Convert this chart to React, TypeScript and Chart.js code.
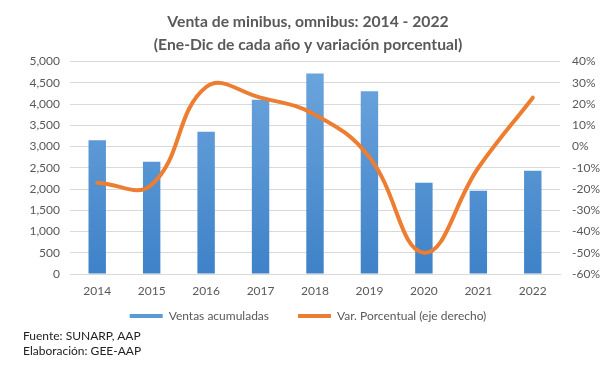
import { useEffect, useRef } from "react";
import { Chart, registerables } from "chart.js";
Chart.register(...registerables);

const years = ["2014", "2015", "2016", "2017", "2018", "2019", "2020", "2021", "2022"];
const ventas = [3150, 2640, 3350, 4100, 4720, 4300, 2150, 1960, 2430];
const variacion = [-17, -18, 28, 23, 15, -5, -50, -10, 23];
const titleLines = ["Venta de minibus, omnibus: 2014 - 2022", "(Ene-Dic de cada año y variación porcentual)"];
const barLabel = "Ventas acumuladas";
const lineLabel = "Var. Porcentual (eje derecho)";
const notes = ["Fuente: SUNARP, AAP", "Elaboración: GEE-AAP"];

const FONT = "Lato, 'Open Sans', sans-serif";
const GRAY = "#595959";

export default function App() {
  const ref = useRef<HTMLCanvasElement>(null);
  useEffect(() => {
    document.body.style.margin = "0";
    const ctx = ref.current!.getContext("2d")!;
    const chart = new Chart(ctx, {
      type: "bar",
      data: {
        labels: years,
        datasets: [
          {
            type: "bar",
            label: barLabel,
            data: ventas,
            yAxisID: "y",
            order: 1,
            barPercentage: 0.32,
            categoryPercentage: 1,
            backgroundColor: (c: any) => {
              const area = c.chart.chartArea;
              if (!area) return "#5B9BD5";
              const g = c.chart.ctx.createLinearGradient(0, area.top, 0, area.bottom);
              g.addColorStop(0, "#6DA6DE");
              g.addColorStop(1, "#3F82C8");
              return g;
            },
          },
          {
            type: "line",
            label: lineLabel,
            data: variacion,
            yAxisID: "y1",
            order: 0,
            borderColor: "#ED7D31",
            backgroundColor: "#ED7D31",
            borderWidth: 4,
            pointRadius: 0,
            tension: 0.42,
            borderCapStyle: "round",
          },
        ],
      },
      options: {
        animation: false,
        responsive: false,
        layout: { padding: { top: 0, bottom: 35, left: 0, right: 0 } },
        plugins: {
          title: {
            display: true,
            text: titleLines,
            color: GRAY,
            font: { family: FONT, size: 15.7, weight: "bold", lineHeight: 1.45 },
            padding: { top: 11, bottom: 5 },
          },
          legend: {
            position: "bottom",
            labels: {
              color: GRAY,
              font: { family: FONT, size: 12 },
              boxWidth: 33,
              boxHeight: 4,
              padding: 2,
              generateLabels: () => [
                { text: barLabel + "\u2003\u2003\u2003", fillStyle: "#5B9BD5", strokeStyle: "#5B9BD5", lineWidth: 0, datasetIndex: 0, fontColor: GRAY } as any,
                { text: lineLabel, fillStyle: "#ED7D31", strokeStyle: "#ED7D31", lineWidth: 0, datasetIndex: 1, fontColor: GRAY } as any,
              ],
            },
          },
          tooltip: { enabled: false },
        },
        scales: {
          x: {
            grid: { display: false, drawTicks: false },
            border: { display: true, color: "#D9D9D9", width: 1 },
            ticks: { color: GRAY, font: { family: FONT, size: 12, lineHeight: 1 }, padding: 11 },
          },
          y: {
            position: "left",
            min: 0,
            max: 5000,
            ticks: {
              stepSize: 500,
              color: GRAY,
              font: { family: FONT, size: 12 },
              padding: 10,
              callback: (v: any) => Number(v).toLocaleString("en-US"),
            },
            grid: { color: "#D9D9D9", drawTicks: false },
            border: { display: false },
            afterFit: (s: any) => { s.width = 70; },
          },
          y1: {
            position: "right",
            min: -60,
            max: 40,
            ticks: {
              stepSize: 10,
              color: GRAY,
              font: { family: FONT, size: 12 },
              padding: 12,
              callback: (v: any) => v + "%",
            },
            grid: { drawOnChartArea: false, drawTicks: false },
            border: { display: false },
            afterFit: (s: any) => { s.width = 56; },
          },
        },
      },
    } as any);
    return () => chart.destroy();
  }, []);
  return (
    <div style={{ position: "fixed", left: 0, top: 0, width: 616, height: 367, background: "#fff" }}>
      <canvas ref={ref} width={616} height={367} style={{ display: "block" }} />
      <div style={{ position: "absolute", left: 23, top: 328, fontFamily: FONT, fontSize: 12, lineHeight: "15px", color: "#222" }}>
        {notes.map((n) => (
          <div key={n}>{n}</div>
        ))}
      </div>
    </div>
  );
}
